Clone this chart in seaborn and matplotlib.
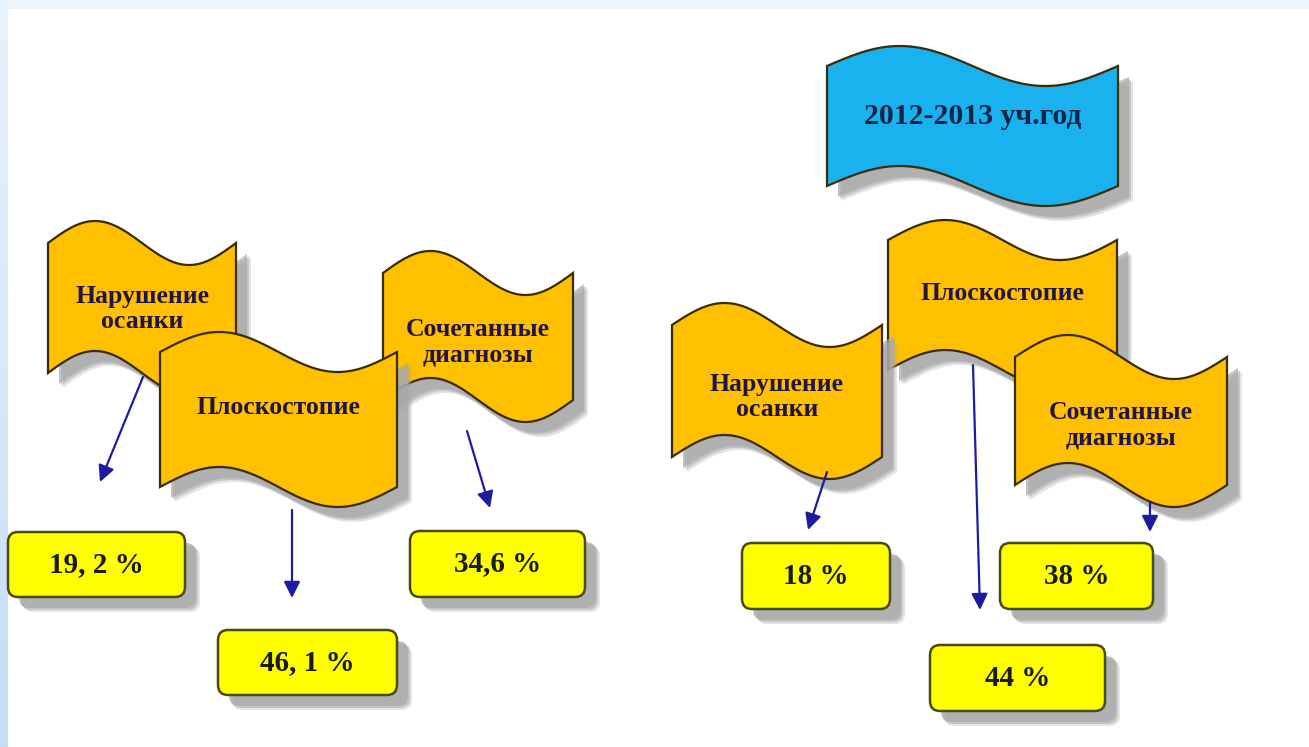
import numpy as np
import matplotlib
matplotlib.use("Agg")
import matplotlib.pyplot as plt
import seaborn as sns
from matplotlib.patches import Polygon, FancyBboxPatch

# ---------------- data ----------------
categories = ["Нарушение\nосанки", "Плоскостопие", "Сочетанные\nдиагнозы"]
values_left = [19.2, 46.1, 34.6]
values_right = [18, 44, 38]
labels_left = ["19, 2 %", "46, 1 %", "34,6 %"]
labels_right = ["18 %", "44 %", "38 %"]
title_right = "2012-2013 уч.год"

# ---------------- layout (pixels) ----------------
W, H = 1309, 747
# flags: x0, x1, y_top_left, height, amplitude, text_y
flags_left = [
    (48, 236, 243, 130, 22, 309),
    (160, 397, 352, 135, 20, 408),
    (383, 573, 273, 127, 22, 342),
]
flags_right = [
    (672, 882, 325, 132, 22, 397),
    (888, 1117, 240, 130, 20, 293),
    (1015, 1227, 357, 128, 22, 425),
]
title_flag = (827, 1118, 66, 120, 20, 117)
# draw order (back to front) per group
order_left = [0, 2, 1]
order_right = [1, 0, 2]
# boxes: x, y, w, h
boxes_left = [(8, 532, 177, 65), (218, 630, 179, 65), (410, 531, 175, 66)]
boxes_right = [(742, 543, 148, 66), (930, 645, 175, 66), (1000, 543, 153, 66)]
# arrows: start, end
arrows_left = [((143, 377), (100, 482)), ((292, 510), (292, 598)), ((467, 431), (490, 508))]
arrows_right = [((827, 472), (808, 530)), ((973, 365), (980, 610)), ((1150, 503), (1150, 532))]

# ---------------- style ----------------
sns.set_theme(style="white")
plt.rcParams['font.family'] = ['Liberation Serif', 'DejaVu Serif']
pal = sns.color_palette(["#FFC000", "#19B2EE", "#FFFF00", "#1C1CA0", "#A8A8A8"])
FLAG_YEL, FLAG_BLUE, BOX_YEL, ARROW, SHADOW = pal

fig = plt.figure(figsize=(W / 100, H / 100), dpi=100)
ax = fig.add_axes([0, 0, 1, 1])
ax.set_xlim(0, W)
ax.set_ylim(H, 0)
ax.axis("off")
fig.patch.set_facecolor("white")

# background strips
grad = np.linspace(0, 1, 256).reshape(-1, 1)
left_cmap = matplotlib.colors.LinearSegmentedColormap.from_list("l", ["#e8f2fc", "#c4def6"])
ax.imshow(grad, extent=(0, 8, H, 0), cmap=left_cmap, aspect="auto", zorder=0)
ax.add_patch(plt.Rectangle((8, 0), W - 8, 9, color="#eef5fc", lw=0, zorder=0))


def flag_points(x0, x1, y0, h, a, n=120):
    t = np.linspace(0, 1, n)
    xs = x0 + (x1 - x0) * t
    top = y0 - a * np.sin(2 * np.pi * t)
    bot = top + h
    return np.vstack([np.column_stack([xs, top]), np.column_stack([xs[::-1], bot[::-1]])])


def shadow(fn, z):
    for k, (off, al) in enumerate([(15, 0.3), (13, 0.5), (11, 0.7)]):
        fn(off, al, z + k * 0.01)


def draw_flag(spec, face, text, fs, z, tcolor="#221445"):
    x0, x1, y0, h, a, ty = spec
    pts = flag_points(x0, x1, y0, h, a)
    def sh(off, al, zz):
        ax.add_patch(Polygon(pts + off, closed=True, fc=SHADOW, ec="none", alpha=al, zorder=zz))
    shadow(sh, z)
    ax.add_patch(Polygon(pts, closed=True, fc=face, ec="#3a2c08", lw=1.6, zorder=z + 0.1))
    ax.text((x0 + x1) / 2, ty, text, ha="center", va="center", fontsize=fs, fontweight="bold",
            color=tcolor, linespacing=1.15, zorder=z + 0.2)


def draw_box(spec, text, z):
    x, y, w, h = spec
    def sh(off, al, zz):
        ax.add_patch(FancyBboxPatch((x + off, y + off), w, h, boxstyle="round,pad=0,rounding_size=10",
                                    fc=SHADOW, ec="none", alpha=al, zorder=zz))
    shadow(sh, z)
    ax.add_patch(FancyBboxPatch((x, y), w, h, boxstyle="round,pad=0,rounding_size=10",
                                fc=BOX_YEL, ec="#4a4a12", lw=1.8, zorder=z + 0.1))
    ax.text(x + w / 2, y + h / 2, text, ha="center", va="center", fontsize=21, fontweight="bold",
            color="#1a1a1a", zorder=z + 0.2)


def draw_arrow(a, b, z):
    ax.annotate("", xy=b, xytext=a,
                arrowprops=dict(arrowstyle="-|>,head_length=0.7,head_width=0.35", color=ARROW,
                                lw=1.6, mutation_scale=14, shrinkA=0, shrinkB=0), zorder=z)


FLAG_FS = 18.5
z = 2
draw_flag(title_flag, FLAG_BLUE, title_right, 21.5, z, tcolor="#14254a")
z += 1
for flags, order in [(flags_left, order_left), (flags_right, order_right)]:
    for i in order:
        draw_flag(flags[i], FLAG_YEL, categories[i], FLAG_FS, z)
        z += 1

for boxes, labels in [(boxes_left, labels_left), (boxes_right, labels_right)]:
    for spec, lab in zip(boxes, labels):
        draw_box(spec, lab, z)
        z += 1

for arrows in [arrows_left, arrows_right]:
    for a, b in arrows:
        draw_arrow(a, b, z)
        z += 1

fig.savefig("out.png", dpi=100, facecolor="white")
